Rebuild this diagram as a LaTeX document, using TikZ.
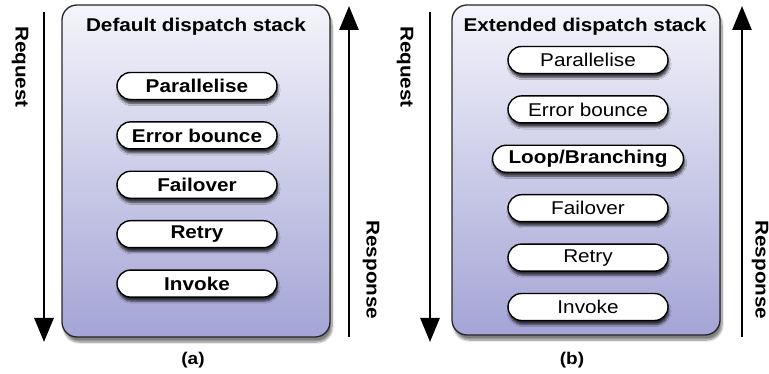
\documentclass[tikz,border=0pt]{standalone}
\usepackage{fontspec}
\setmainfont{Liberation Sans}[FakeStretch=1.12]
\usepackage{xcolor}
\usepackage{tikz}
\usetikzlibrary{arrows.meta, positioning, shadows, shadows.blur}

\definecolor{stacktop}{RGB}{244,244,251}
\definecolor{stackbot}{RGB}{164,164,214}

\begin{document}
\begin{tikzpicture}[
  x=1pt, y=-1pt,
  stack/.style={rectangle, draw=black!85, line width=1.3pt, rounded corners=15pt,
    top color=stacktop, bottom color=stackbot,
    blur shadow={shadow xshift=2pt, shadow yshift=-5pt, shadow blur steps=8, shadow opacity=50}},
  layer/.style={rectangle, draw=black, line width=1.4pt, fill=white, rounded corners=13.5pt,
    minimum width=160pt, minimum height=27pt, inner sep=0pt,
    font=\fontsize{18.5}{20}\selectfont,
    blur shadow={shadow xshift=1pt, shadow yshift=-4pt, shadow blur steps=6, shadow opacity=75}},
  title/.style={font=\bfseries\fontsize{18.5}{20}\selectfont},
  flow/.style={font=\bfseries\fontsize{18.5}{20}\selectfont, rotate=-90},
  caption/.style={font=\bfseries\fontsize{17}{19}\selectfont},
  arrow/.style={-{Triangle[length=24pt,width=19pt]}, line width=2.8pt}
]
  \useasboundingbox (0,0) rectangle (769,374);

  % (a) default stack
  \node[stack, minimum width=268pt, minimum height=332pt] (boxA) at (196,171) {};
  \node[title] (titleA) at (196,27) {Default dispatch stack};
  \node[layer, font=\bfseries\fontsize{18.5}{20}\selectfont] (parA) at (197,86) {Parallelise};
  \node[layer, font=\bfseries\fontsize{18.5}{20}\selectfont, below=21pt of parA] (errA) {Error bounce};
  \node[layer, font=\bfseries\fontsize{18.5}{20}\selectfont, below=21pt of errA] (failA) {Failover};
  \node[layer, font=\bfseries\fontsize{18.5}{20}\selectfont, below=21pt of failA] (retryA) {Retry};
  \node[layer, font=\bfseries\fontsize{18.5}{20}\selectfont, below=21pt of retryA] (invA) {Invoke};

  \coordinate (reqAtop) at (44,12);
  \coordinate (reqAbot) at (44,342);
  \coordinate (resAbot) at (349,337);
  \coordinate (resAtop) at (349,6);
  \draw[arrow] (reqAtop) -- (reqAbot);
  \draw[arrow] (resAbot) -- (resAtop);
  \node[flow] (reqA) at (20,67) {Request};
  \node[flow] (resA) at (371,270) {Response};
  \node[caption] (capA) at (193,360) {(a)};

  % (b) extended stack
  \node[stack, minimum width=268pt, minimum height=330pt] (boxB) at (586,170) {};
  \node[title] (titleB) at (585,27) {Extended dispatch stack};
  \node[layer] (parB) at (588,60) {Parallelise};
  \node[layer, below=21pt of parB] (errB) {Error bounce};
  \node[layer, minimum width=191pt, font=\bfseries\fontsize{18.5}{20}\selectfont, below=21pt of errB] (loopB) {Loop/Branching};
  \node[layer, below=21pt of loopB] (failB) {Failover};
  \node[layer, below=21pt of failB] (retryB) {Retry};
  \node[layer, below=21pt of retryB] (invB) {Invoke};

  \coordinate (reqBtop) at (430,12);
  \coordinate (reqBbot) at (430,342);
  \coordinate (resBbot) at (742,337);
  \coordinate (resBtop) at (742,6);
  \draw[arrow] (reqBtop) -- (reqBbot);
  \draw[arrow] (resBbot) -- (resBtop);
  \node[flow] (reqB) at (405,67) {Request};
  \node[flow] (resB) at (760,270) {Response};
  \node[caption] (capB) at (572,360) {(b)};
\end{tikzpicture}
\end{document}
